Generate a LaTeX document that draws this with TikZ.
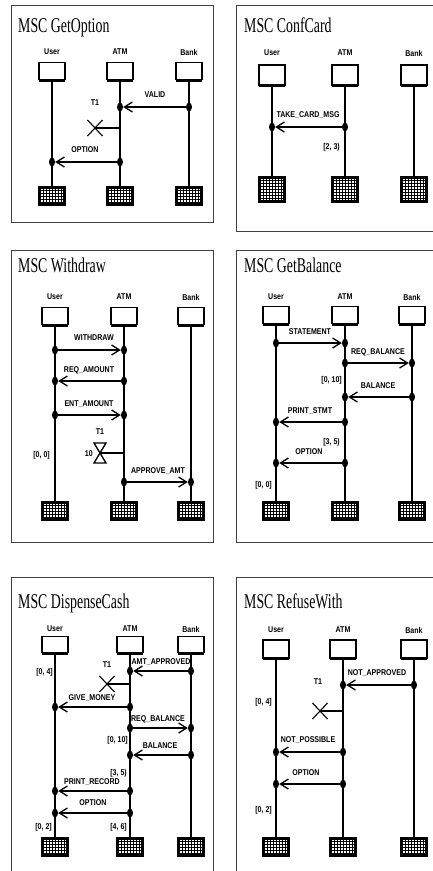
\documentclass[tikz,border=0pt]{standalone}
\usepackage{fontspec}
\newfontfamily\ttlfont{Liberation Serif}[FakeStretch=0.66]
\newfontfamily\lblfont{Liberation Sans}[FakeStretch=0.84]
\usetikzlibrary{arrows.meta,shapes.geometric,shapes.misc}
\tikzset{
  frame/.style={draw=black!75, line width=1pt},
  ttl/.style={anchor=base west, inner sep=0, font=\ttlfont\fontsize{21}{21}\selectfont},
  inst/.style={inner sep=0, font=\lblfont\bfseries\fontsize{8.4}{9}\selectfont},
  mlbl/.style={inner sep=0, font=\lblfont\bfseries\fontsize{8.4}{9}\selectfont},
  cond/.style={inner sep=0, anchor=east, font=\lblfont\bfseries\fontsize{8.4}{9}\selectfont},
  headbox/.style={draw, line width=1.6pt, fill=white, minimum width=26pt, minimum height=17pt, inner sep=0},
  footbox/.style={draw, line width=2.2pt, fill=white, minimum width=25pt, minimum height=17pt, inner sep=0,
    path picture={
      \foreach \k in {-4,...,4} \draw[line width=0.9pt] ([xshift=\k*3pt]path picture bounding box.south) -- ([xshift=\k*3pt]path picture bounding box.north);
      \foreach \k in {-4,...,4} \draw[line width=0.9pt] ([yshift=\k*3pt]path picture bounding box.west) -- ([yshift=\k*3pt]path picture bounding box.east);
    }},
  life/.style={line width=1.9pt},
  ev/.style={ellipse, fill, minimum width=6pt, minimum height=9pt, inner sep=0},
  msg/.style={line width=1.3pt, -{Straight Barb[length=8pt,width=10pt,line width=1.3pt]}},
  tmrx/.style={cross out, draw, line width=1.1pt, minimum width=14pt, minimum height=15pt, inner sep=0},
  tline/.style={line width=1.3pt},
}
\newcommand{\thickbottom}[1]{\draw[line width=3pt] ([xshift=0.8pt]#1.south west) -- ([xshift=-0.8pt]#1.south east);}
\begin{document}
\begin{tikzpicture}[x=1pt,y=-1pt]
\useasboundingbox (0,0) rectangle (433,871);
\clip (0,0) rectangle (433,871);
% frames
\draw[frame] (11,5) rectangle (213,222);
\draw[frame] (236,5) rectangle (445,231);
\draw[frame] (11,250) rectangle (213,542);
\draw[frame] (236,250) rectangle (445,542);
\draw[frame] (11,577) rectangle (213,885);
\draw[frame] (236,577) rectangle (445,885);

% ================= Panel a: GetOption
\node[ttl] (aT) at (18,32) {MSC GetOption};
\node[inst] (aUl) at (52,52) {User};
\node[inst] (aAl) at (120,52) {ATM};
\node[inst] (aBl) at (189,52) {Bank};
\node[headbox] (aU) at (52,71) {};
\node[headbox] (aA) at (120,71) {};
\node[headbox] (aB) at (189,71) {};
\node[footbox] (aUf) at (52,196) {};
\node[footbox] (aAf) at (120,196) {};
\node[footbox] (aBf) at (189,196) {};
\foreach \n in {aU,aA,aB}{\draw[life] (\n) -- (\n f); \thickbottom{\n}}
\node[ev] (a1s) at (189,107) {};
\node[ev] (a1r) at (120,107) {};
\draw[msg] (a1s) -- (a1r);
\node[mlbl] (a1l) at (155,95) {VALID};
\node[mlbl] (aT1) at (95,103) {T1};
\node[tmrx] (aX) at (95,128) {};
\draw[tline] (aX.center) -- (aX.center -| aA);
\node[ev] (a2s) at (120,162) {};
\node[ev] (a2r) at (52,162) {};
\draw[msg] (a2s) -- (a2r);
\node[mlbl] (a2l) at (85,150) {OPTION};

% ================= Panel b: ConfCard
\node[ttl] (bT) at (244,32) {MSC ConfCard};
\node[inst] (bUl) at (272,53) {User};
\node[inst] (bAl) at (345,53) {ATM};
\node[inst] (bBl) at (414,53) {Bank};
\node[headbox, minimum height=20pt] (bU) at (272,75) {};
\node[headbox, minimum height=20pt] (bA) at (345,75) {};
\node[headbox, minimum height=20pt] (bB) at (414,75) {};
\node[footbox, minimum height=24pt] (bUf) at (272,189.5) {};
\node[footbox, minimum height=24pt] (bAf) at (345,189.5) {};
\node[footbox, minimum height=24pt] (bBf) at (414,189.5) {};
\foreach \n in {bU,bA,bB}{\draw[life] (\n) -- (\n f); \thickbottom{\n}}
\node[ev] (b1s) at (345,127) {};
\node[ev] (b1r) at (272,127) {};
\draw[msg] (b1s) -- (b1r);
\node[mlbl] (b1l) at (308,115) {TAKE\_CARD\_MSG};
\node[cond] (bc1) at (340,147) {[2, 3)};

% ================= Panel c: Withdraw
\node[ttl] (cT) at (18,272) {MSC Withdraw};
\node[inst] (cUl) at (55,297) {User};
\node[inst] (cAl) at (124,297) {ATM};
\node[inst] (cBl) at (191,297) {Bank};
\node[headbox] (cU) at (55,316) {};
\node[headbox] (cA) at (124,316) {};
\node[headbox] (cB) at (191,316) {};
\node[footbox] (cUf) at (55,511) {};
\node[footbox] (cAf) at (124,511) {};
\node[footbox] (cBf) at (191,511) {};
\foreach \n in {cU,cA,cB}{\draw[life] (\n) -- (\n f); \thickbottom{\n}}
\node[ev] (c1s) at (55,350) {};
\node[ev] (c1r) at (124,350) {};
\draw[msg] (c1s) -- (c1r);
\node[mlbl] (c1l) at (94,338) {WITHDRAW};
\node[ev] (c2s) at (124,381) {};
\node[ev] (c2r) at (55,381) {};
\draw[msg] (c2s) -- (c2r);
\node[mlbl] (c2l) at (89,370) {REQ\_AMOUNT};
\node[ev] (c3s) at (55,415) {};
\node[ev] (c3r) at (124,415) {};
\draw[msg] (c3s) -- (c3r);
\node[mlbl] (c3l) at (89,404) {ENT\_AMOUNT};
\node[mlbl] (cT1) at (100,432) {T1};
\coordinate (cH) at (100,453);
\draw[tline] (94,443) -- (106,443) -- (94,463) -- (106,463) -- cycle;
\draw[tline] (cH) -- (cH -| cA);
\node[cond] (c10) at (93,454) {10};
\node[cond] (cc1) at (50,455) {[0, 0]};
\node[ev] (c4s) at (124,482) {};
\node[ev] (c4r) at (191,482) {};
\draw[msg] (c4s) -- (c4r);
\node[mlbl] (c4l) at (158,471) {APPROVE\_AMT};

% ================= Panel d: GetBalance
\node[ttl] (dT) at (244,272) {MSC GetBalance};
\node[inst] (dUl) at (276,297) {User};
\node[inst] (dAl) at (345,297) {ATM};
\node[inst] (dBl) at (412,297) {Bank};
\node[headbox] (dU) at (276,315) {};
\node[headbox] (dA) at (345,315) {};
\node[headbox] (dB) at (412,315) {};
\node[footbox] (dUf) at (276,511) {};
\node[footbox] (dAf) at (345,511) {};
\node[footbox] (dBf) at (412,511) {};
\foreach \n in {dU,dA,dB}{\draw[life] (\n) -- (\n f); \thickbottom{\n}}
\node[ev] (d1s) at (276,343) {};
\node[ev] (d1r) at (345,343) {};
\draw[msg] (d1s) -- (d1r);
\node[mlbl] (d1l) at (310,332) {STATEMENT};
\node[ev] (d2s) at (345,363) {};
\node[ev] (d2r) at (412,363) {};
\draw[msg] (d2s) -- (d2r);
\node[mlbl] (d2l) at (378,352) {REQ\_BALANCE};
\node[cond] (dc1) at (342,380) {[0, 10]};
\node[ev] (d3s) at (412,397) {};
\node[ev] (d3r) at (345,397) {};
\draw[msg] (d3s) -- (d3r);
\node[mlbl] (d3l) at (378,386) {BALANCE};
\node[ev] (d4s) at (345,422) {};
\node[ev] (d4r) at (276,422) {};
\draw[msg] (d4s) -- (d4r);
\node[mlbl] (d4l) at (310,411) {PRINT\_STMT};
\node[cond] (dc2) at (340,442) {[3, 5)};
\node[ev] (d5s) at (345,463) {};
\node[ev] (d5r) at (276,463) {};
\draw[msg] (d5s) -- (d5r);
\node[mlbl] (d5l) at (309,452) {OPTION};
\node[cond] (dc3) at (272,485) {[0, 0]};

% ================= Panel e: DispenseCash
\node[ttl] (eT) at (18,608) {MSC DispenseCash};
\node[inst] (eUl) at (55,629) {User};
\node[inst] (eAl) at (130,629) {ATM};
\node[inst] (eBl) at (191,629) {Bank};
\node[headbox, minimum height=16pt] (eU) at (55,644.5) {};
\node[headbox, minimum height=16pt] (eA) at (130,644.5) {};
\node[headbox, minimum height=16pt] (eB) at (191,644.5) {};
\node[footbox] (eUf) at (55,847) {};
\node[footbox] (eAf) at (130,847) {};
\node[footbox] (eBf) at (191,847) {};
\foreach \n in {eU,eA,eB}{\draw[life] (\n) -- (\n f); \thickbottom{\n}}
\node[ev] (e1s) at (191,671) {};
\node[ev] (e1r) at (130,671) {};
\draw[msg] (e1s) -- (e1r);
\node[mlbl] (e1l) at (161,662) {AMT\_APPROVED};
\node[mlbl] (eT1) at (107,665) {T1};
\node[cond] (ec1) at (53,672) {[0, 4]};
\node[tmrx] (eX) at (107,684) {};
\draw[tline] (eX.center) -- (eX.center -| eA);
\node[ev] (e2s) at (130,707) {};
\node[ev] (e2r) at (55,707) {};
\draw[msg] (e2s) -- (e2r);
\node[mlbl] (e2l) at (92,698) {GIVE\_MONEY};
\node[ev] (e3s) at (130,728) {};
\node[ev] (e3r) at (191,728) {};
\draw[msg] (e3s) -- (e3r);
\node[mlbl] (e3l) at (158,719) {REQ\_BALANCE};
\node[cond] (ec2) at (128,740) {[0, 10]};
\node[ev] (e4s) at (191,755) {};
\node[ev] (e4r) at (130,755) {};
\draw[msg] (e4s) -- (e4r);
\node[mlbl] (e4l) at (160,746) {BALANCE};
\node[cond] (ec3) at (127,773) {[3, 5)};
\node[ev] (e5s) at (130,791) {};
\node[ev] (e5r) at (55,791) {};
\draw[msg] (e5s) -- (e5r);
\node[mlbl] (e5l) at (92,782) {PRINT\_RECORD};
\node[ev] (e6s) at (130,813) {};
\node[ev] (e6r) at (55,813) {};
\draw[msg] (e6s) -- (e6r);
\node[mlbl] (e6l) at (93,803) {OPTION};
\node[cond] (ec4) at (52,827) {[0, 2]};
\node[cond] (ec5) at (127,827) {[4, 6]};

% ================= Panel f: RefuseWith
\node[ttl] (fT) at (244,608) {MSC RefuseWith};
\node[inst] (fUl) at (276,630) {User};
\node[inst] (fAl) at (343,630) {ATM};
\node[inst] (fBl) at (414,630) {Bank};
\node[headbox, minimum height=18pt] (fU) at (276,649) {};
\node[headbox, minimum height=18pt] (fA) at (343,649) {};
\node[headbox, minimum height=18pt] (fB) at (414,649) {};
\node[footbox] (fUf) at (276,847) {};
\node[footbox] (fAf) at (343,847) {};
\node[footbox] (fBf) at (414,847) {};
\foreach \n in {fU,fA,fB}{\draw[life] (\n) -- (\n f); \thickbottom{\n}}
\node[ev] (f1s) at (414,685) {};
\node[ev] (f1r) at (343,685) {};
\draw[msg] (f1s) -- (f1r);
\node[mlbl] (f1l) at (377,673) {NOT\_APPROVED};
\node[mlbl] (fT1) at (318,682) {T1};
\node[cond] (fc1) at (272,702) {[0, 4]};
\node[tmrx] (fX) at (320,711) {};
\draw[tline] (fX.center) -- (fX.center -| fA);
\node[ev] (f2s) at (343,752) {};
\node[ev] (f2r) at (276,752) {};
\draw[msg] (f2s) -- (f2r);
\node[mlbl] (f2l) at (308,740) {NOT\_POSSIBLE};
\node[ev] (f3s) at (343,784) {};
\node[ev] (f3r) at (276,784) {};
\draw[msg] (f3s) -- (f3r);
\node[mlbl] (f3l) at (306,773) {OPTION};
\node[cond] (fc2) at (272,810) {[0, 2]};
\end{tikzpicture}
\end{document}
